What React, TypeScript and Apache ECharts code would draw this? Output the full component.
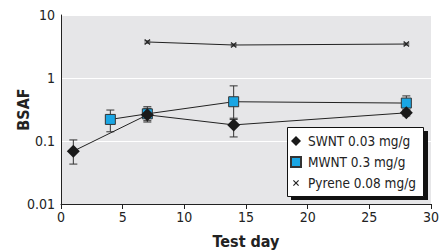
import React, { useEffect, useRef } from "react";
import * as echarts from "echarts";

const swntDays = [1, 7, 14, 28];
const swntValues = [0.069, 0.26, 0.18, 0.28];
const swntLow = [0.043, 0.2, 0.116, 0.25];
const swntHigh = [0.104, 0.33, 0.22, 0.31];

const mwntDays = [4, 7, 14, 28];
const mwntValues = [0.22, 0.27, 0.42, 0.4];
const mwntLow = [0.14, 0.21, 0.23, 0.31];
const mwntHigh = [0.31, 0.35, 0.75, 0.52];

const pyreneDays = [7, 14, 28];
const pyreneValues = [3.73, 3.34, 3.46];
const pyreneLow = [3.58, 3.22, 3.34];
const pyreneHigh = [3.88, 3.46, 3.58];

const yTicks = ["0.01", "0.1", "1", "10"];

const FONT = "'Liberation Sans Narrow', 'DejaVu Sans Condensed', 'Roboto', sans-serif";
const X_ICON =
  "path://M0,0L0.01,0L0,0.01Z M10,10L9.99,10L10,9.99Z M2,2.8L2.8,2L5,4.2L7.2,2L8,2.8L5.8,5L8,7.2L7.2,8L5,5.8L2.8,8L2,7.2L4.2,5Z";

function errData(days: number[], low: number[], high: number[]) {
  return days.map((d, i) => [d, low[i], high[i]]);
}

function errSeries(name: string, data: number[][], w: number) {
  return {
    type: "custom",
    name: name + "_err",
    z: 1,
    silent: true,
    renderItem: (params: any, api: any) => {
      const x = api.value(0);
      const lo = api.coord([x, api.value(1)]);
      const hi = api.coord([x, api.value(2)]);
      const style = { stroke: "#333", lineWidth: 1 };
      return {
        type: "group",
        children: [
          { type: "line", shape: { x1: lo[0], y1: lo[1], x2: hi[0], y2: hi[1] }, style },
          { type: "line", shape: { x1: lo[0] - w, y1: lo[1], x2: lo[0] + w, y2: lo[1] }, style },
          { type: "line", shape: { x1: hi[0] - w, y1: hi[1], x2: hi[0] + w, y2: hi[1] }, style },
        ],
      };
    },
    data,
  };
}

export default function App() {
  const ref = useRef<HTMLDivElement>(null);
  useEffect(() => {
    const chart = echarts.init(ref.current!, undefined, { renderer: "svg" });
    chart.setOption({
      animation: false,
      textStyle: { fontFamily: FONT },
      grid: {
        left: 61,
        right: 9,
        top: 15,
        bottom: 47,
        show: true,
        backgroundColor: "#e6e6e8",
        borderWidth: 0,
        outerBoundsMode: "none",
        containLabel: false,
      },
      graphic: [
        { type: "rect", z: 10, shape: { x: 291, y: 131, width: 137, height: 69 }, style: { fill: "#111" } },
        {
          type: "rect",
          z: 11,
          shape: { x: 287.5, y: 127.5, width: 136, height: 69 },
          style: { fill: "#fff", stroke: "#111", lineWidth: 1 },
        },
      ],
      legend: {
        orient: "vertical",
        left: 290,
        top: 134,
        z: 20,
        padding: 0,
        itemGap: 7,
        itemWidth: 10,
        itemHeight: 10,
        textStyle: { fontSize: 13.5, lineHeight: 14, color: "#222", fontFamily: FONT, padding: [0, 0, 0, 2] },
        data: [
          { name: "SWNT 0.03 mg/g", icon: "diamond" },
          { name: "MWNT 0.3 mg/g", icon: "rect" },
          { name: "Pyrene 0.08 mg/g", icon: X_ICON },
        ],
      },
      xAxis: {
        type: "value",
        min: 0,
        max: 30,
        interval: 5,
        name: "Test day",
        nameLocation: "middle",
        nameGap: 29,
        nameMoveOverlap: false,
        nameTextStyle: { fontSize: 16, fontWeight: "bold", color: "#222", fontFamily: FONT },
        axisLine: { show: true, onZero: false, lineStyle: { color: "#222", width: 1 } },
        axisTick: { show: true, length: 5, lineStyle: { color: "#222" } },
        axisLabel: { fontSize: 14, color: "#222", margin: 6 },
        splitLine: { show: false },
      },
      yAxis: {
        type: "log",
        logBase: 10,
        min: 0.01,
        max: 10,
        name: "BSAF",
        nameLocation: "middle",
        nameGap: 30,
        nameMoveOverlap: false,
        nameTextStyle: { fontSize: 16, fontWeight: "bold", color: "#222", fontFamily: FONT },
        axisLine: { show: true, onZero: false, lineStyle: { color: "#222", width: 1 } },
        axisTick: { show: false },
        axisLabel: {
          fontSize: 14,
          color: "#222",
          margin: 6,
          formatter: (v: number) => {
            const idx = Math.round(Math.log10(v)) + 2;
            return yTicks[idx] ?? String(v);
          },
        },
        splitLine: { show: true, lineStyle: { color: "#ffffff", width: 1 } },
      },
      series: [
        errSeries("SWNT", errData(swntDays, swntLow, swntHigh), 4),
        errSeries("MWNT", errData(mwntDays, mwntLow, mwntHigh), 4),
        errSeries("Pyrene", errData(pyreneDays, pyreneLow, pyreneHigh), 3),
        {
          type: "line",
          name: "Pyrene 0.08 mg/g",
          z: 2,
          symbol: X_ICON,
          symbolSize: 10,
          itemStyle: { color: "#222" },
          lineStyle: { color: "#222", width: 1 },
          data: pyreneDays.map((d, i) => [d, pyreneValues[i]]),
        },
        {
          type: "line",
          name: "MWNT 0.3 mg/g",
          z: 3,
          symbol: "rect",
          symbolSize: 10,
          itemStyle: { color: "#1aa6e4", borderColor: "#333", borderWidth: 1 },
          lineStyle: { color: "#222", width: 1 },
          data: mwntDays.map((d, i) => [d, mwntValues[i]]),
        },
        {
          type: "line",
          name: "SWNT 0.03 mg/g",
          z: 4,
          symbol: "diamond",
          symbolSize: 13,
          itemStyle: { color: "#1a1a1a" },
          lineStyle: { color: "#222", width: 1 },
          data: swntDays.map((d, i) => [d, swntValues[i]]),
        },
      ],
    });
    return () => chart.dispose();
  }, []);
  return <div ref={ref} style={{ width: 440, height: 251, position: "absolute", left: 0, top: 0 }} />;
}
